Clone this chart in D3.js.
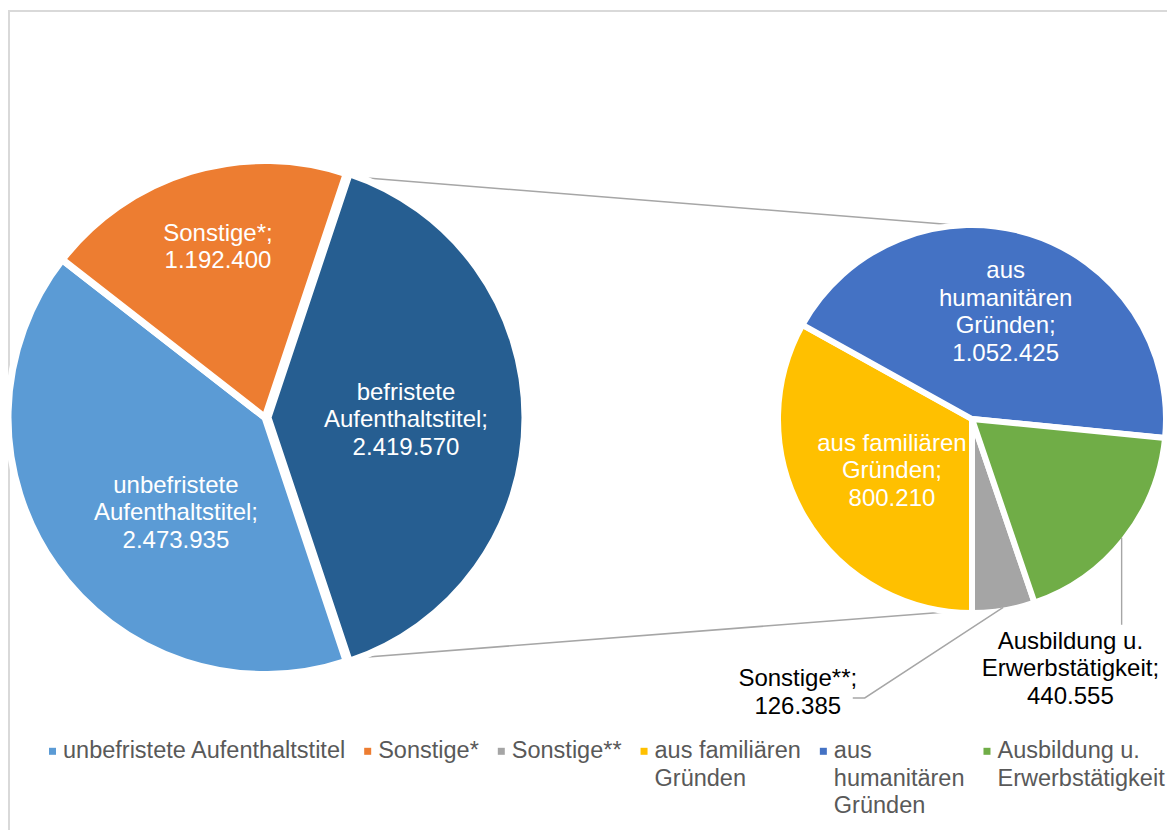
<!DOCTYPE html>
<html><head><meta charset="utf-8">
<script src="https://cdn.jsdelivr.net/npm/d3@7"></script>
<style>html,body{margin:0;padding:0;background:#fff;} svg{display:block;}</style>
</head><body><svg id="chart" width="1167" height="830"></svg>
<script>
// ---------- DATA ----------
const mainCategories = ["unbefristete Aufenthaltstitel", "Sonstige*", "befristete Aufenthaltstitel"];
const mainValues = [2473935, 1192400, 2419570];
const mainLabelNames = [["unbefristete", "Aufenthaltstitel;"], ["Sonstige*;"], ["befristete", "Aufenthaltstitel;"]];

const subCategories = ["Sonstige**", "aus familiären Gründen", "aus humanitären Gründen", "Ausbildung u. Erwerbstätigkeit"];
const subValues = [126385, 800210, 1052425, 440555];
const subLabelNames = [["Sonstige**;"], ["aus familiären", "Gründen;"], ["aus", "humanitären", "Gründen;"], ["Ausbildung u.", "Erwerbstätigkeit;"]];

const legendCategories = ["unbefristete Aufenthaltstitel", "Sonstige*", "Sonstige**", "aus familiären Gründen", "aus humanitären Gründen", "Ausbildung u. Erwerbstätigkeit"];
const legendLines = [["unbefristete Aufenthaltstitel"], ["Sonstige*"], ["Sonstige**"], ["aus familiären", "Gründen"], ["aus", "humanitären", "Gründen"], ["Ausbildung u.", "Erwerbstätigkeit"]];

// ---------- STYLE ----------
const color = d3.scaleOrdinal()
  .domain(["unbefristete Aufenthaltstitel", "Sonstige*", "befristete Aufenthaltstitel", "Sonstige**", "aus familiären Gründen", "aus humanitären Gründen", "Ausbildung u. Erwerbstätigkeit"])
  .range(["#5B9BD5", "#ED7D31", "#265E91", "#A5A5A5", "#FFC000", "#4472C4", "#70AD47"]);
const FONT = "'Liberation Sans', Arial, sans-serif";
const fmt = d3.formatLocale({decimal: ",", thousands: ".", grouping: [3], currency: ["", "€"]}).format(",d");
const deg = Math.PI / 180;

const svg = d3.select("#chart");

// frame
svg.append("rect").attr("x", 9).attr("y", 11).attr("width", 1300).attr("height", 1000)
  .attr("fill", "none").attr("stroke", "#d9d9d9").attr("stroke-width", 2);

// geometry
const main = {cx: 265, cy: 417.5, R: 257, stroke: 7};
const sub = {cx: 972, cy: 419, R: 194, stroke: 6};
const otherIndex = 2;     // befristete -> second pie
const explode = 3;

const total = d3.sum(mainValues);
const otherAngle = 2 * Math.PI * mainValues[otherIndex] / total;
const mainStart = Math.PI / 2 + otherAngle / 2;
const mainPie = d3.pie().sort(null).startAngle(mainStart).endAngle(mainStart + 2 * Math.PI);
const mainArcs = mainPie(mainValues);

const subTotal = d3.sum(subValues);
const subStart = Math.PI - 2 * Math.PI * subValues[0] / subTotal;
const subPie = d3.pie().sort(null).startAngle(subStart).endAngle(subStart + 2 * Math.PI);
const subArcs = subPie(subValues);

const polar = (cx, cy, a, r) => [cx + r * Math.sin(a), cy - r * Math.cos(a)];
const mid = d => (d.startAngle + d.endAngle) / 2;

// offsets of slices (explosion of the "other" slice)
const mainOffset = mainArcs.map((d, i) => i === otherIndex ? [explode * Math.sin(mid(d)), -explode * Math.cos(mid(d))] : [0, 0]);

// connector lines
const o = mainArcs[otherIndex];
const oc = [main.cx + mainOffset[otherIndex][0], main.cy + mainOffset[otherIndex][1]];
const corners = [polar(oc[0], oc[1], o.startAngle, main.R - 3), polar(oc[0], oc[1], o.endAngle, main.R - 3)];
const cTop = corners[0][1] < corners[1][1] ? corners[0] : corners[1];
const cBot = corners[0][1] < corners[1][1] ? corners[1] : corners[0];
svg.append("path").attr("fill", "none").attr("stroke", "#a6a6a6").attr("stroke-width", 1.6)
  .attr("d", d3.line()([cTop, [sub.cx - 4, sub.cy - sub.R + 1]]));
svg.append("path").attr("fill", "none").attr("stroke", "#a6a6a6").attr("stroke-width", 1.6)
  .attr("d", d3.line()([cBot, [sub.cx, sub.cy + sub.R - 3]]));

// main pie
const mainArc = d3.arc().innerRadius(0).outerRadius(main.R);
const gMain = svg.append("g").attr("transform", `translate(${main.cx},${main.cy})`);
gMain.selectAll("path").data(mainArcs).join("path")
  .attr("d", mainArc)
  .attr("transform", (d, i) => `translate(${mainOffset[i][0]},${mainOffset[i][1]})`)
  .attr("fill", (d, i) => color(mainCategories[i]))
  .attr("stroke", "#fff").attr("stroke-width", main.stroke).attr("stroke-linejoin", "miter");

// sub pie
const subArc = d3.arc().innerRadius(0).outerRadius(sub.R);
const gSub = svg.append("g").attr("transform", `translate(${sub.cx},${sub.cy})`);
gSub.selectAll("path").data(subArcs).join("path")
  .attr("d", subArc)
  .attr("fill", (d, i) => color(subCategories[i]))
  .attr("stroke", "#fff").attr("stroke-width", sub.stroke).attr("stroke-linejoin", "miter");

// labels
const LINE = 27.5;
function drawLabel(x, y, lines, fill) {
  const t = svg.append("text").attr("font-family", FONT).attr("font-size", 24)
    .attr("fill", fill).attr("text-anchor", "middle");
  lines.forEach((s, i) => {
    t.append("tspan").attr("x", x).attr("y", y + (i - (lines.length - 1) / 2) * LINE).attr("dy", "0.35em").text(s);
  });
}
// label placement (angle offset in degrees, radius fraction)
const mainLabelPos = [{da: -11.4, rf: 0.505}, {da: 1.5, rf: 0.692}, {da: 0.6, rf: 0.537}];
mainArcs.forEach((d, i) => {
  const p = mainLabelPos[i];
  const [x, y] = polar(main.cx + mainOffset[i][0], main.cy + mainOffset[i][1], mid(d) + p.da * deg, p.rf * main.R);
  drawLabel(x, y, mainLabelNames[i].concat([fmt(mainValues[i])]), "#fff");
});

const subLabelPos = [{da: 42, rf: 1.667, out: true}, {da: -2, rf: 0.489}, {da: 0, rf: 0.582}, {da: 30, rf: 1.379, out: true}];
subArcs.forEach((d, i) => {
  const p = subLabelPos[i];
  const [x, y] = polar(sub.cx, sub.cy, mid(d) + p.da * deg, p.rf * sub.R);
  drawLabel(x, y, subLabelNames[i].concat([fmt(subValues[i])]), p.out ? "#000" : "#fff");
  if (p.out) {
    const s = polar(sub.cx, sub.cy, mid(d), sub.R - 3);
    let pts;
    if (i === 0) pts = [s, [x + 67, y + 6.5], [x + 55, y + 6.5]];
    else pts = [s, [s[0], y - 43]];
    svg.append("path").attr("fill", "none").attr("stroke", "#a6a6a6").attr("stroke-width", 1.4)
      .attr("d", d3.line()(pts));
  }
});

// legend
const legend = svg.append("g");
let lx = 49;
const LEG_Y = 758.3, LEG_LINE = 27.5;
legendCategories.forEach((c, i) => {
  legend.append("rect").attr("x", lx).attr("y", LEG_Y - 10.5).attr("width", 7).attr("height", 7)
    .attr("fill", color(c));
  const t = legend.append("text").attr("font-family", FONT).attr("font-size", 23.5).attr("fill", "#595959");
  legendLines[i].forEach((s, j) => {
    t.append("tspan").attr("x", lx + 14).attr("y", LEG_Y + j * LEG_LINE).text(s);
  });
  let w = 0;
  t.selectAll("tspan").each(function () { w = Math.max(w, this.getComputedTextLength()); });
  lx += 14 + w + 19;
});
</script>
</body></html>
